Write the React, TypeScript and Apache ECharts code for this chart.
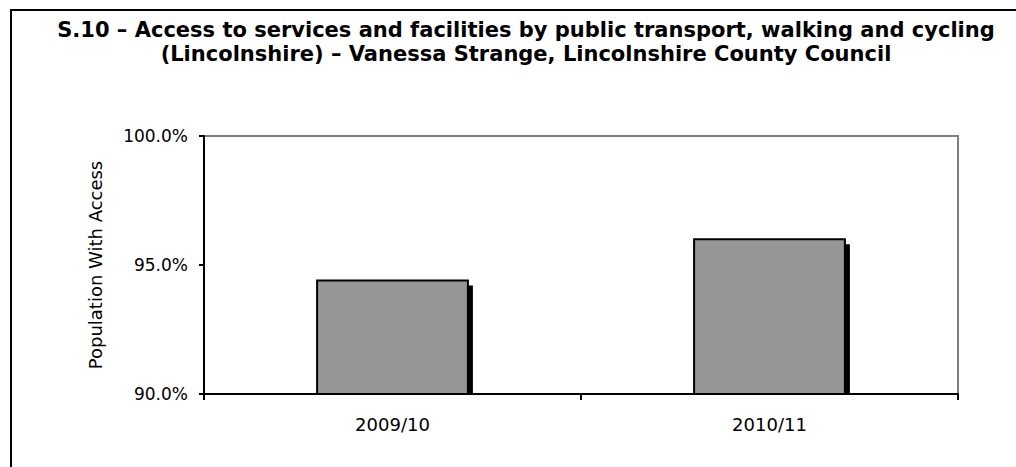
import React, { useEffect, useRef } from "react";
import * as echarts from "echarts";

const categories = ["2009/10", "2010/11"];
const values = [94.4, 96.0];
const yTicks = { min: 90, max: 100, interval: 5 };
const titleLines = [
  "S.10 – Access to services and facilities by public transport, walking and cycling",
  "(Lincolnshire) – Vanessa Strange, Lincolnshire County Council",
];
const yAxisName = "Population With Access";

const FONT = "'DejaVu Sans', Verdana, sans-serif";

export default function App() {
  const ref = useRef<HTMLDivElement>(null);
  useEffect(() => {
    if (!ref.current) return;
    const chart = echarts.init(ref.current, null, { renderer: "svg" });
    chart.setOption({
      animation: false,
      backgroundColor: "#ffffff",
      title: {
        text: titleLines.join("\n"),
        left: 521,
        top: 13,
        textAlign: "center",
        textStyle: {
          fontFamily: FONT,
          fontWeight: "bold",
          fontSize: 21,
          lineHeight: 24,
          color: "#000",
        },
      },
      graphic: [
        {
          type: "rect",
          shape: { x: 11, y: 10, width: 1200, height: 600 },
          style: { fill: "none", stroke: "#000", lineWidth: 2 },
          silent: true,
          z: 0,
        },
      ],
      grid: {
        left: 204,
        top: 136,
        right: 58,
        bottom: 73,
        show: true,
        borderColor: "#808080",
        borderWidth: 2,
        backgroundColor: "transparent",
      },
      xAxis: {
        type: "category",
        data: categories,
        axisLine: { show: true, lineStyle: { color: "#000", width: 2 } },
        axisTick: { show: true, alignWithLabel: false, length: 6, lineStyle: { color: "#000", width: 2 } },
        axisLabel: { fontFamily: FONT, fontSize: 18, color: "#000", margin: 21 },
        splitLine: { show: false },
      },
      yAxis: {
        type: "value",
        min: yTicks.min,
        max: yTicks.max,
        interval: yTicks.interval,
        name: yAxisName,
        nameLocation: "middle",
        nameGap: 100,
        nameTextStyle: { fontFamily: FONT, fontSize: 18, color: "#000" },
        axisLine: { show: true, lineStyle: { color: "#000", width: 2 } },
        axisTick: { show: true, length: 5, lineStyle: { color: "#000", width: 2 } },
        axisLabel: {
          fontFamily: FONT,
          fontSize: 17,
          color: "#000",
          margin: 16,
          formatter: (v: number) => v.toFixed(1) + "%",
        },
        splitLine: { show: false },
      },
      series: [
        {
          type: "custom",
          data: values.map((v, i) => [i, v]),
          encode: { x: 0, y: 1 },
          renderItem: (params: any, api: any) => {
            const idx = api.value(0);
            const val = api.value(1);
            const top = api.coord([idx, val]);
            const base = api.coord([idx, yTicks.min]);
            const band = api.size([1, 0])[0];
            const w = band * 0.4;
            const x = top[0] - w / 2;
            const h = base[1] - top[1];
            return {
              type: "group",
              children: [
                {
                  type: "rect",
                  shape: { x: x + 5, y: top[1] + 5, width: w, height: h - 5 },
                  style: { fill: "#000" },
                },
                {
                  type: "rect",
                  shape: { x, y: top[1], width: w, height: h },
                  style: { fill: "#969696", stroke: "#000", lineWidth: 2 },
                },
              ],
            };
          },
        },
      ],
    });
    return () => chart.dispose();
  }, []);
  return (
    <div
      ref={ref}
      style={{ position: "fixed", left: 0, top: 0, width: 1016, height: 467 }}
    />
  );
}
